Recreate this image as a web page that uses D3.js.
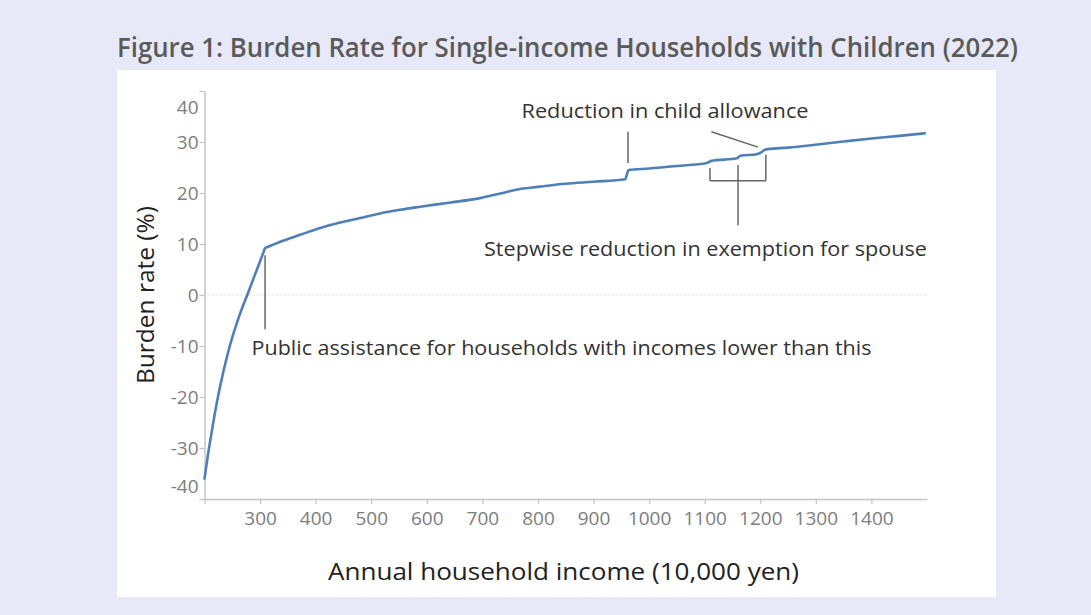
<!DOCTYPE html>
<html>
<head>
<meta charset="utf-8">
<script src="https://cdn.jsdelivr.net/npm/d3@7"></script>
<style>
  html, body { margin: 0; padding: 0; background: #e7e9f8; }
  svg { display: block; }
  text { font-family: "Open Sans", "Noto Sans", sans-serif; }
</style>
</head>
<body>
<svg id="chart" width="1091" height="615"></svg>
<script>
// ---- data ----
const titleText = "Figure 1: Burden Rate for Single-income Households with Children (2022)";
const xTitle = "Annual household income (10,000 yen)";
const yTitle = "Burden rate (%)";

// Annual household income (10,000 yen)
const incomes = [200, 206, 213, 222, 234, 246, 262, 279, 294, 309, 340, 372, 410, 444, 480, 516, 552, 588, 640, 696, 732, 768, 800, 850, 900, 957, 963, 1000, 1050, 1104, 1112, 1158, 1164, 1194, 1201, 1207, 1213, 1250, 1295, 1350, 1400, 1450, 1496];
// Burden rate (%)
const rates   = [-36.0, -31.5, -26.8, -21.2, -15.0, -9.8, -4.3, 0.6, 4.9, 9.2, 10.6, 11.8, 13.2, 14.2, 15.1, 16.0, 16.7, 17.3, 18.1, 19.0, 19.9, 20.8, 21.2, 21.8, 22.2, 22.7, 24.5, 24.8, 25.3, 25.9, 26.3, 26.8, 27.3, 27.6, 27.9, 28.4, 28.6, 28.9, 29.4, 30.1, 30.7, 31.2, 31.7];
// index of the point where public assistance ends (sharp kink)
const kinkIndex = 9;

const xTicks = [200, 300, 400, 500, 600, 700, 800, 900, 1000, 1100, 1200, 1300, 1400];
const xTickLabels = ["", "300", "400", "500", "600", "700", "800", "900", "1000", "1100", "1200", "1300", "1400"];
const yTicks = [-40, -30, -20, -10, 0, 10, 20, 30, 40];
const yTickLabels = ["-40", "-30", "-20", "-10", "0", "10", "20", "30", "40"];

const noteChild = "Reduction in child allowance";
const noteSpouse = "Stepwise reduction in exemption for spouse";
const notePublic = "Public assistance for households with incomes lower than this";

// ---- layout ----
const svg = d3.select("#chart");
const x = d3.scaleLinear().domain([200, 1500]).range([204.5, 927]);
const y = d3.scaleLinear().domain([-40, 40]).range([499, 91]);

// white panel
svg.append("rect").attr("x", 117).attr("y", 70).attr("width", 879).attr("height", 527).attr("fill", "#ffffff");

// title
svg.append("text").attr("x", 117).attr("y", 57)
  .attr("font-size", 27).attr("font-weight", 600).attr("fill", "#5a5a5a")
  .attr("textLength", 901).attr("lengthAdjust", "spacingAndGlyphs")
  .text(titleText);

// zero gridline
svg.append("line")
  .attr("x1", x(200)).attr("x2", x(1500)).attr("y1", y(0)).attr("y2", y(0))
  .attr("stroke", "#dcdcdc").attr("stroke-width", 1).attr("stroke-dasharray", "2,2");

// x axis
const gx = svg.append("g").attr("transform", `translate(0,${y(-40)})`)
  .call(d3.axisBottom(x).tickValues(xTicks).tickSize(5).tickSizeOuter(0)
    .tickFormat((d, i) => xTickLabels[i]));
gx.select(".domain").attr("stroke", "#c4c4c4").attr("stroke-width", 1.5);
gx.selectAll(".tick line").attr("stroke", "#c4c4c4").attr("stroke-width", 1.2);
gx.selectAll(".tick text").attr("font-size", 19).attr("fill", "#7d7d7d")
  .attr("font-family", "'Open Sans', sans-serif").attr("dy", "0.95em").attr("y", 8);

// y axis
const gy = svg.append("g").attr("transform", `translate(${x(200)},0)`)
  .call(d3.axisLeft(y).tickValues(yTicks).tickSize(5).tickSizeOuter(0)
    .tickFormat((d, i) => yTickLabels[i]));
gy.select(".domain").attr("stroke", "#c4c4c4").attr("stroke-width", 1.5);
gy.selectAll(".tick line").attr("stroke", "#c4c4c4").attr("stroke-width", 1.2);
gy.selectAll(".tick text").attr("font-size", 19).attr("fill", "#7d7d7d")
  .attr("font-family", "'Open Sans', sans-serif").attr("x", -6);
// end labels are pulled inward
gy.selectAll(".tick text").filter(d => d === 40).attr("dy", "1.2em");
gy.selectAll(".tick text").filter(d => d === -40).attr("dy", "-0.35em");

// axis titles
svg.append("text").attr("x", 328).attr("y", 580)
  .attr("font-size", 24).attr("fill", "#222")
  .attr("textLength", 471).attr("lengthAdjust", "spacingAndGlyphs")
  .text(xTitle);
svg.append("text")
  .attr("transform", `translate(154,${y(0)}) rotate(-90)`)
  .attr("text-anchor", "middle")
  .attr("font-size", 24).attr("fill", "#222")
  .attr("textLength", 178).attr("lengthAdjust", "spacingAndGlyphs")
  .text(yTitle);

// line: two smooth segments joined at the sharp kink
const pts = incomes.map((v, i) => [v, rates[i]]);
const lineGen = d3.line().x(d => x(d[0])).y(d => y(d[1])).curve(d3.curveMonotoneX);
const seg1 = lineGen(pts.slice(0, kinkIndex + 1));
const seg2 = lineGen(pts.slice(kinkIndex)).replace(/^M[^CLZ]*/, "");
svg.append("path")
  .attr("fill", "none").attr("stroke", "#4f7fb8").attr("stroke-width", 2.6)
  .attr("stroke-linejoin", "round").attr("stroke-linecap", "round")
  .attr("d", seg1 + seg2);

// annotations (in data units)
const annoLines = [
  [[309, 7.8], [309, -6.7]],            // public assistance
  [[962, 32.0], [962, 25.9]],           // child allowance vertical
  [[1112, 32.0], [1196, 29.0]],         // child allowance diagonal
  [[1109.5, 24.9], [1109.5, 22.4]],     // bracket left
  [[1109.5, 22.4], [1210, 22.4]],       // bracket bottom
  [[1210, 27.5], [1210, 22.4]],         // bracket right
  [[1160, 25.5], [1160, 13.7]]          // bracket middle stem
];
svg.append("g").selectAll("line").data(annoLines).join("line")
  .attr("x1", d => x(d[0][0])).attr("y1", d => y(d[0][1]))
  .attr("x2", d => x(d[1][0])).attr("y2", d => y(d[1][1]))
  .attr("stroke", "#666").attr("stroke-width", 1.5);

svg.append("text").attr("x", 521.5).attr("y", 117.5)
  .attr("font-size", 20).attr("fill", "#333")
  .attr("textLength", 287).attr("lengthAdjust", "spacingAndGlyphs")
  .text(noteChild);
svg.append("text").attr("x", 484).attr("y", 255.5)
  .attr("font-size", 20).attr("fill", "#333")
  .attr("textLength", 443).attr("lengthAdjust", "spacingAndGlyphs")
  .text(noteSpouse);
svg.append("text").attr("x", 251.5).attr("y", 355)
  .attr("font-size", 20).attr("fill", "#333")
  .attr("textLength", 620).attr("lengthAdjust", "spacingAndGlyphs")
  .text(notePublic);
</script>
</body>
</html>
